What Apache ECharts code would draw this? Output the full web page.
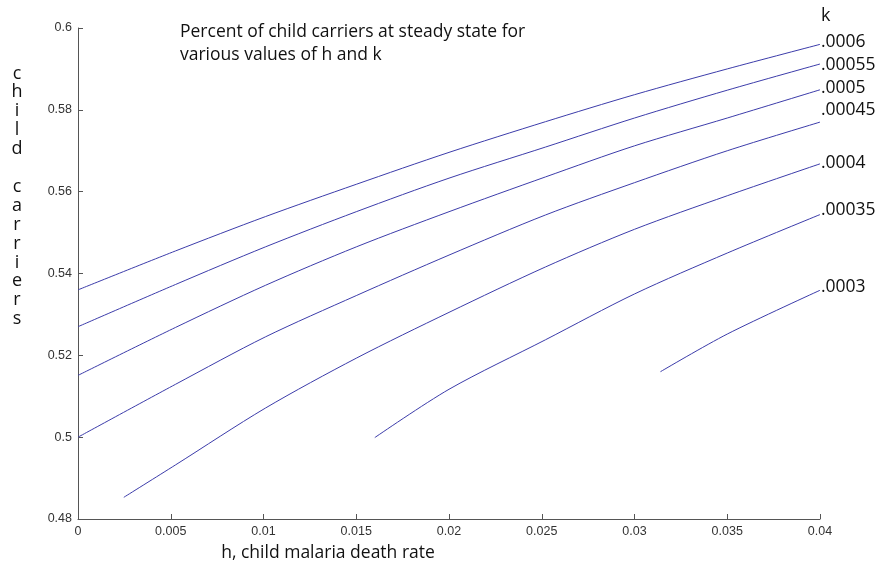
<!DOCTYPE html>
<html>
<head>
<meta charset="utf-8">
<script src="https://cdn.jsdelivr.net/npm/echarts@6/dist/echarts.min.js"></script>
<style>html,body{margin:0;padding:0;background:#fff}#c{width:881px;height:566px}</style>
</head>
<body>
<div id="c"></div>
<script>
// k labels (right side) and curve data: [h, child carriers]
const kLabels = ['.0006', '.00055', '.0005', '.00045', '.0004', '.00035', '.0003'];
const k0006  = [[0,0.536],[0.00525,0.5455],[0.0101,0.5539],[0.015,0.5618],[0.020,0.5696],[0.0252,0.5771],[0.030,0.5837],[0.035,0.590],[0.04,0.596]];
const k00055 = [[0,0.527],[0.00525,0.5373],[0.0101,0.5465],[0.015,0.5551],[0.020,0.5633],[0.0252,0.5709],[0.030,0.578],[0.035,0.5848],[0.04,0.5912]];
const k0005  = [[0,0.5151],[0.00525,0.5268],[0.0101,0.5371],[0.015,0.5465],[0.020,0.5551],[0.0252,0.5636],[0.030,0.5712],[0.035,0.578],[0.04,0.5849]];
const k00045 = [[0,0.5],[0.00525,0.5129],[0.0101,0.5245],[0.015,0.5346],[0.020,0.5445],[0.0252,0.5543],[0.030,0.5622],[0.035,0.570],[0.04,0.577]];
const k0004  = [[0.00247,0.4853],[0.00525,0.4932],[0.0101,0.5071],[0.015,0.5193],[0.020,0.5305],[0.0252,0.5416],[0.030,0.5508],[0.035,0.559],[0.04,0.5668]];
const k00035 = [[0.016,0.4999],[0.020,0.5117],[0.0252,0.5238],[0.030,0.535],[0.035,0.545],[0.04,0.5544]];
const k0003  = [[0.0314,0.516],[0.035,0.5252],[0.04,0.5359]];
const seriesData = [k0006, k00055, k0005, k00045, k0004, k00035, k0003];
const titleLines = ['Percent of child carriers at steady state for', 'various values of h and k'];
const xName = 'h, child malaria death rate';
const yName = 'child carriers';

const lineColor = '#3c3caa';
const chart = echarts.init(document.getElementById('c'), null, {renderer: 'canvas'});

const labelY = [42, 65, 88, 110, 163, 210, 287];
const graphics = [];
graphics.push({type:'text', left:180, top:21, style:{text: titleLines.join('\n'), font:'17.5px "Open Sans"', lineHeight:23, fill:'#111'}});
graphics.push({type:'text', x:821, y:16, style:{text:'k', font:'18px "Open Sans"', fill:'#111', verticalAlign:'middle'}});
kLabels.forEach((t, i) => {
  graphics.push({type:'text', x:821, y:labelY[i], style:{text:t, font:'17.5px "Open Sans"', fill:'#111', verticalAlign:'middle'}});
});
graphics.push({type:'text', x:17, y:64, style:{text: yName.split('').map(c => c === ' ' ? '' : c).join('\n'), font:'18px "Open Sans"', lineHeight:18.9, align:'center', verticalAlign:'top', fill:'#111'}});
graphics.push({type:'text', x:328, y:553, style:{text:xName, font:'17.5px "Open Sans"', align:'center', verticalAlign:'middle', fill:'#111'}});

const axisCommon = {
  axisLine: {show:true, lineStyle:{color:'#555', width:1}},
  axisTick: {show:true, inside:true, length:5, lineStyle:{color:'#555'}},
  splitLine: {show:false},
  axisLabel: {color:'#333', fontFamily:'"Liberation Sans", Arial', fontSize:12.5, margin:6}
};

chart.setOption({
  animation: false,
  backgroundColor: '#fff',
  grid: {left:78, right:61, top:28, bottom:47},
  xAxis: Object.assign({type:'value', min:0, max:0.04, interval:0.005}, axisCommon),
  yAxis: Object.assign({type:'value', min:0.48, max:0.6, interval:0.02}, axisCommon),
  series: seriesData.map((d, i) => ({
    type:'line', name:kLabels[i], data:d, showSymbol:false, smooth:0.3,
    lineStyle:{color:lineColor, width:1}, emphasis:{disabled:true}
  })),
  graphic: graphics
});
</script>
</body>
</html>
